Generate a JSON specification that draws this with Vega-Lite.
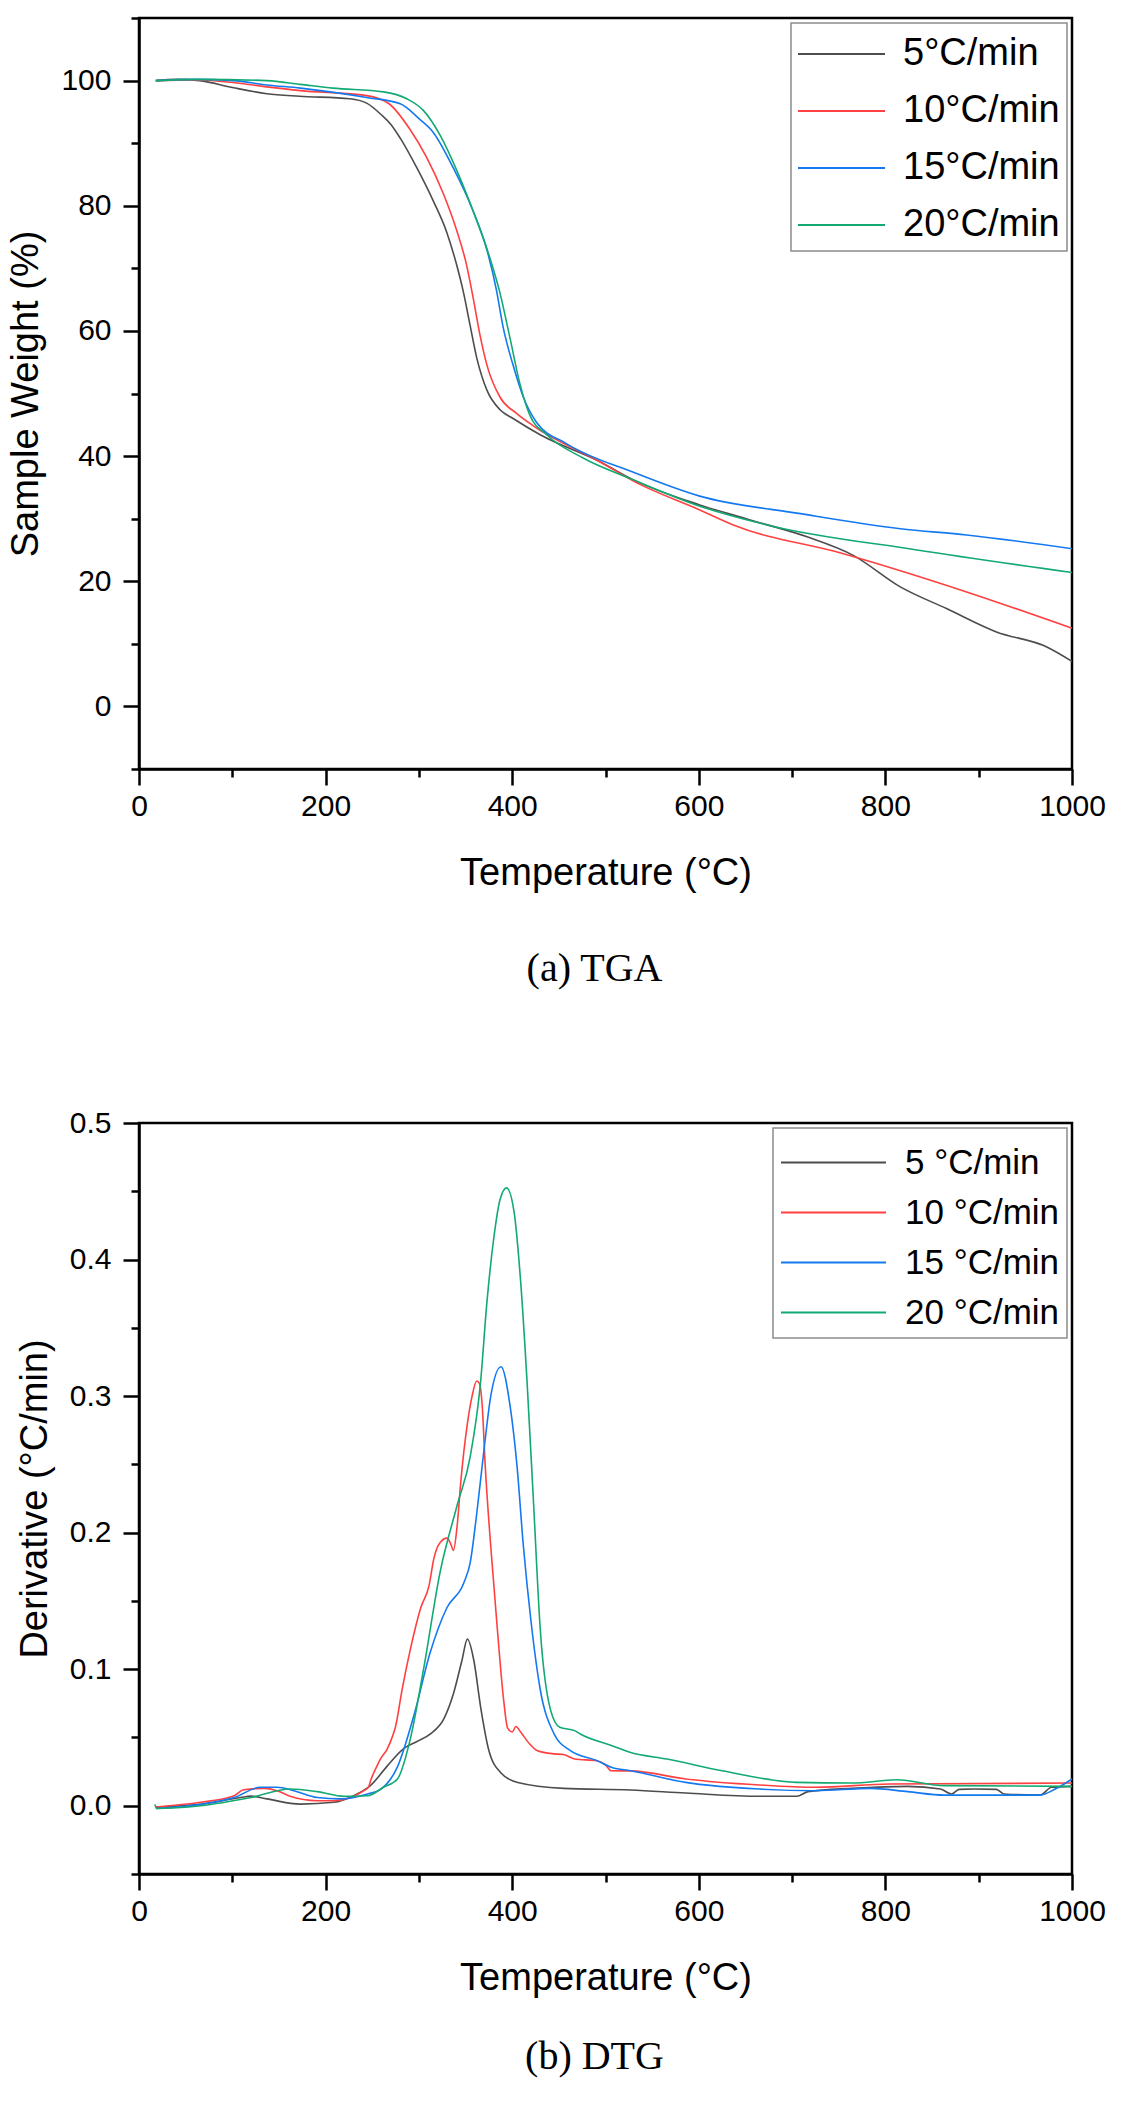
{
  "$schema": "https://vega.github.io/schema/vega-lite/v6.json",
  "description": "TGA and DTG curves at four heating rates.",
  "padding": {"left": 6, "top": 1, "right": 10, "bottom": 10},
  "spacing": 115,
  "background": "white",
  "datasets": {
    "tga": [
      {"rate": "5°C/min", "T": 18, "W": 100.0}, {"rate": "5°C/min", "T": 40, "W": 100.2}, {"rate": "5°C/min", "T": 65, "W": 100.0},
      {"rate": "5°C/min", "T": 100, "W": 98.9}, {"rate": "5°C/min", "T": 137, "W": 97.9}, {"rate": "5°C/min", "T": 172, "W": 97.5},
      {"rate": "5°C/min", "T": 226, "W": 97.1}, {"rate": "5°C/min", "T": 244, "W": 96.4}, {"rate": "5°C/min", "T": 260, "W": 94.5},
      {"rate": "5°C/min", "T": 270, "W": 93.0}, {"rate": "5°C/min", "T": 280, "W": 90.8}, {"rate": "5°C/min", "T": 298, "W": 86.0},
      {"rate": "5°C/min", "T": 315, "W": 80.9}, {"rate": "5°C/min", "T": 330, "W": 75.7}, {"rate": "5°C/min", "T": 340, "W": 70.8},
      {"rate": "5°C/min", "T": 348, "W": 66.0}, {"rate": "5°C/min", "T": 355, "W": 60.8}, {"rate": "5°C/min", "T": 362, "W": 55.7},
      {"rate": "5°C/min", "T": 373, "W": 50.5}, {"rate": "5°C/min", "T": 387, "W": 47.4}, {"rate": "5°C/min", "T": 401, "W": 46.0},
      {"rate": "5°C/min", "T": 430, "W": 43.4}, {"rate": "5°C/min", "T": 494, "W": 39.1}, {"rate": "5°C/min", "T": 530, "W": 36.2},
      {"rate": "5°C/min", "T": 601, "W": 32.2}, {"rate": "5°C/min", "T": 655, "W": 29.8}, {"rate": "5°C/min", "T": 716, "W": 27.1},
      {"rate": "5°C/min", "T": 766, "W": 24.1}, {"rate": "5°C/min", "T": 816, "W": 19.1}, {"rate": "5°C/min", "T": 866, "W": 15.6},
      {"rate": "5°C/min", "T": 919, "W": 11.9}, {"rate": "5°C/min", "T": 973, "W": 9.5}, {"rate": "5°C/min", "T": 1000, "W": 7.2},

      {"rate": "10°C/min", "T": 18, "W": 100.0}, {"rate": "10°C/min", "T": 60, "W": 100.1}, {"rate": "10°C/min", "T": 101, "W": 99.7},
      {"rate": "10°C/min", "T": 137, "W": 99.0}, {"rate": "10°C/min", "T": 173, "W": 98.4}, {"rate": "10°C/min", "T": 244, "W": 97.6},
      {"rate": "10°C/min", "T": 268, "W": 96.3}, {"rate": "10°C/min", "T": 290, "W": 92.3}, {"rate": "10°C/min", "T": 308, "W": 87.8},
      {"rate": "10°C/min", "T": 326, "W": 82.0}, {"rate": "10°C/min", "T": 340, "W": 76.3}, {"rate": "10°C/min", "T": 351, "W": 70.6},
      {"rate": "10°C/min", "T": 358, "W": 65.4}, {"rate": "10°C/min", "T": 365, "W": 59.7}, {"rate": "10°C/min", "T": 373, "W": 54.5},
      {"rate": "10°C/min", "T": 387, "W": 49.4}, {"rate": "10°C/min", "T": 405, "W": 46.8}, {"rate": "10°C/min", "T": 423, "W": 44.8},
      {"rate": "10°C/min", "T": 494, "W": 39.1}, {"rate": "10°C/min", "T": 530, "W": 36.0}, {"rate": "10°C/min", "T": 601, "W": 31.4},
      {"rate": "10°C/min", "T": 637, "W": 29.0}, {"rate": "10°C/min", "T": 755, "W": 24.4}, {"rate": "10°C/min", "T": 887, "W": 18.3},
      {"rate": "10°C/min", "T": 1000, "W": 12.5},

      {"rate": "15°C/min", "T": 18, "W": 100.0}, {"rate": "15°C/min", "T": 60, "W": 100.2}, {"rate": "15°C/min", "T": 101, "W": 100.0},
      {"rate": "15°C/min", "T": 137, "W": 99.3}, {"rate": "15°C/min", "T": 173, "W": 98.8}, {"rate": "15°C/min", "T": 244, "W": 97.3},
      {"rate": "15°C/min", "T": 280, "W": 96.3}, {"rate": "15°C/min", "T": 301, "W": 93.8}, {"rate": "15°C/min", "T": 315, "W": 91.8},
      {"rate": "15°C/min", "T": 337, "W": 86.0}, {"rate": "15°C/min", "T": 358, "W": 79.2}, {"rate": "15°C/min", "T": 373, "W": 72.9},
      {"rate": "15°C/min", "T": 383, "W": 66.6}, {"rate": "15°C/min", "T": 390, "W": 60.8}, {"rate": "15°C/min", "T": 401, "W": 54.5},
      {"rate": "15°C/min", "T": 412, "W": 49.4}, {"rate": "15°C/min", "T": 426, "W": 45.4}, {"rate": "15°C/min", "T": 458, "W": 42.0},
      {"rate": "15°C/min", "T": 530, "W": 37.4}, {"rate": "15°C/min", "T": 601, "W": 33.6}, {"rate": "15°C/min", "T": 709, "W": 30.8},
      {"rate": "15°C/min", "T": 816, "W": 28.4}, {"rate": "15°C/min", "T": 887, "W": 27.4}, {"rate": "15°C/min", "T": 1000, "W": 25.2},

      {"rate": "20°C/min", "T": 18, "W": 100.0}, {"rate": "20°C/min", "T": 65, "W": 100.2}, {"rate": "20°C/min", "T": 137, "W": 100.0},
      {"rate": "20°C/min", "T": 173, "W": 99.4}, {"rate": "20°C/min", "T": 208, "W": 98.8}, {"rate": "20°C/min", "T": 262, "W": 98.2},
      {"rate": "20°C/min", "T": 287, "W": 97.1}, {"rate": "20°C/min", "T": 305, "W": 95.2}, {"rate": "20°C/min", "T": 323, "W": 91.2},
      {"rate": "20°C/min", "T": 341, "W": 85.5}, {"rate": "20°C/min", "T": 358, "W": 79.2}, {"rate": "20°C/min", "T": 376, "W": 71.7},
      {"rate": "20°C/min", "T": 387, "W": 66.0}, {"rate": "20°C/min", "T": 398, "W": 58.6}, {"rate": "20°C/min", "T": 408, "W": 51.7},
      {"rate": "20°C/min", "T": 419, "W": 46.5}, {"rate": "20°C/min", "T": 437, "W": 43.4}, {"rate": "20°C/min", "T": 476, "W": 39.7},
      {"rate": "20°C/min", "T": 530, "W": 36.2}, {"rate": "20°C/min", "T": 601, "W": 32.0}, {"rate": "20°C/min", "T": 673, "W": 29.0},
      {"rate": "20°C/min", "T": 834, "W": 25.0}, {"rate": "20°C/min", "T": 1000, "W": 21.4}
    ],
    "dtg": [
      {"rate": "5 °C/min", "T": 18, "D": -0.001}, {"rate": "5 °C/min", "T": 66, "D": 0.001}, {"rate": "5 °C/min", "T": 109, "D": 0.006},
      {"rate": "5 °C/min", "T": 120, "D": 0.007}, {"rate": "5 °C/min", "T": 137, "D": 0.005}, {"rate": "5 °C/min", "T": 173, "D": 0.0012},
      {"rate": "5 °C/min", "T": 209, "D": 0.0025}, {"rate": "5 °C/min", "T": 230, "D": 0.0073}, {"rate": "5 °C/min", "T": 248, "D": 0.0147},
      {"rate": "5 °C/min", "T": 266, "D": 0.029}, {"rate": "5 °C/min", "T": 284, "D": 0.042}, {"rate": "5 °C/min", "T": 298, "D": 0.047},
      {"rate": "5 °C/min", "T": 312, "D": 0.0525}, {"rate": "5 °C/min", "T": 327, "D": 0.064}, {"rate": "5 °C/min", "T": 337, "D": 0.082},
      {"rate": "5 °C/min", "T": 346, "D": 0.106}, {"rate": "5 °C/min", "T": 352, "D": 0.122}, {"rate": "5 °C/min", "T": 359, "D": 0.106},
      {"rate": "5 °C/min", "T": 366, "D": 0.073}, {"rate": "5 °C/min", "T": 375, "D": 0.0405}, {"rate": "5 °C/min", "T": 388, "D": 0.024},
      {"rate": "5 °C/min", "T": 406, "D": 0.017}, {"rate": "5 °C/min", "T": 455, "D": 0.0127}, {"rate": "5 °C/min", "T": 527, "D": 0.0115},
      {"rate": "5 °C/min", "T": 586, "D": 0.0093}, {"rate": "5 °C/min", "T": 665, "D": 0.0069}, {"rate": "5 °C/min", "T": 705, "D": 0.0069},
      {"rate": "5 °C/min", "T": 717, "D": 0.0103}, {"rate": "5 °C/min", "T": 764, "D": 0.0127}, {"rate": "5 °C/min", "T": 824, "D": 0.0142},
      {"rate": "5 °C/min", "T": 859, "D": 0.0122}, {"rate": "5 °C/min", "T": 871, "D": 0.0086}, {"rate": "5 °C/min", "T": 879, "D": 0.012},
      {"rate": "5 °C/min", "T": 895, "D": 0.0122}, {"rate": "5 °C/min", "T": 919, "D": 0.012}, {"rate": "5 °C/min", "T": 927, "D": 0.0086},
      {"rate": "5 °C/min", "T": 966, "D": 0.0078}, {"rate": "5 °C/min", "T": 978, "D": 0.0135}, {"rate": "5 °C/min", "T": 1000, "D": 0.0142},

      {"rate": "10 °C/min", "T": 18, "D": -0.001}, {"rate": "10 °C/min", "T": 66, "D": 0.0025}, {"rate": "10 °C/min", "T": 102, "D": 0.0073},
      {"rate": "10 °C/min", "T": 112, "D": 0.0117}, {"rate": "10 °C/min", "T": 134, "D": 0.0127}, {"rate": "10 °C/min", "T": 148, "D": 0.011},
      {"rate": "10 °C/min", "T": 162, "D": 0.0069}, {"rate": "10 °C/min", "T": 191, "D": 0.0037}, {"rate": "10 °C/min", "T": 209, "D": 0.0037},
      {"rate": "10 °C/min", "T": 227, "D": 0.006}, {"rate": "10 °C/min", "T": 241, "D": 0.011}, {"rate": "10 °C/min", "T": 246, "D": 0.0136},
      {"rate": "10 °C/min", "T": 248, "D": 0.018}, {"rate": "10 °C/min", "T": 255, "D": 0.029}, {"rate": "10 °C/min", "T": 259, "D": 0.0345},
      {"rate": "10 °C/min", "T": 266, "D": 0.0415}, {"rate": "10 °C/min", "T": 271, "D": 0.0495}, {"rate": "10 °C/min", "T": 275, "D": 0.058},
      {"rate": "10 °C/min", "T": 282, "D": 0.085}, {"rate": "10 °C/min", "T": 291, "D": 0.115}, {"rate": "10 °C/min", "T": 302, "D": 0.145},
      {"rate": "10 °C/min", "T": 311, "D": 0.1616}, {"rate": "10 °C/min", "T": 316, "D": 0.181}, {"rate": "10 °C/min", "T": 323, "D": 0.193},
      {"rate": "10 °C/min", "T": 330, "D": 0.196}, {"rate": "10 °C/min", "T": 334, "D": 0.192}, {"rate": "10 °C/min", "T": 337, "D": 0.187},
      {"rate": "10 °C/min", "T": 341, "D": 0.205}, {"rate": "10 °C/min", "T": 345, "D": 0.238}, {"rate": "10 °C/min", "T": 352, "D": 0.28},
      {"rate": "10 °C/min", "T": 357, "D": 0.30}, {"rate": "10 °C/min", "T": 362, "D": 0.311}, {"rate": "10 °C/min", "T": 365, "D": 0.309},
      {"rate": "10 °C/min", "T": 368, "D": 0.2915}, {"rate": "10 °C/min", "T": 371, "D": 0.25}, {"rate": "10 °C/min", "T": 377, "D": 0.19},
      {"rate": "10 °C/min", "T": 384, "D": 0.130}, {"rate": "10 °C/min", "T": 391, "D": 0.0764}, {"rate": "10 °C/min", "T": 395, "D": 0.057},
      {"rate": "10 °C/min", "T": 400, "D": 0.054}, {"rate": "10 °C/min", "T": 404, "D": 0.058}, {"rate": "10 °C/min", "T": 409, "D": 0.054},
      {"rate": "10 °C/min", "T": 419, "D": 0.045}, {"rate": "10 °C/min", "T": 427, "D": 0.0403}, {"rate": "10 °C/min", "T": 445, "D": 0.038},
      {"rate": "10 °C/min", "T": 455, "D": 0.0375}, {"rate": "10 °C/min", "T": 467, "D": 0.0342}, {"rate": "10 °C/min", "T": 491, "D": 0.033},
      {"rate": "10 °C/min", "T": 500, "D": 0.030}, {"rate": "10 °C/min", "T": 506, "D": 0.0256}, {"rate": "10 °C/min", "T": 527, "D": 0.0255},
      {"rate": "10 °C/min", "T": 586, "D": 0.0196}, {"rate": "10 °C/min", "T": 665, "D": 0.0152}, {"rate": "10 °C/min", "T": 725, "D": 0.0135},
      {"rate": "10 °C/min", "T": 804, "D": 0.0159}, {"rate": "10 °C/min", "T": 1000, "D": 0.0166},

      {"rate": "15 °C/min", "T": 18, "D": -0.002}, {"rate": "15 °C/min", "T": 66, "D": 0.001}, {"rate": "15 °C/min", "T": 102, "D": 0.006},
      {"rate": "15 °C/min", "T": 130, "D": 0.0135}, {"rate": "15 °C/min", "T": 148, "D": 0.0135}, {"rate": "15 °C/min", "T": 166, "D": 0.011},
      {"rate": "15 °C/min", "T": 191, "D": 0.006}, {"rate": "15 °C/min", "T": 216, "D": 0.005}, {"rate": "15 °C/min", "T": 245, "D": 0.0086},
      {"rate": "15 °C/min", "T": 259, "D": 0.012}, {"rate": "15 °C/min", "T": 277, "D": 0.0285}, {"rate": "15 °C/min", "T": 295, "D": 0.067},
      {"rate": "15 °C/min", "T": 312, "D": 0.112}, {"rate": "15 °C/min", "T": 330, "D": 0.145}, {"rate": "15 °C/min", "T": 348, "D": 0.163},
      {"rate": "15 °C/min", "T": 355, "D": 0.178}, {"rate": "15 °C/min", "T": 362, "D": 0.214}, {"rate": "15 °C/min", "T": 370, "D": 0.262},
      {"rate": "15 °C/min", "T": 377, "D": 0.30}, {"rate": "15 °C/min", "T": 388, "D": 0.3215}, {"rate": "15 °C/min", "T": 398, "D": 0.2915},
      {"rate": "15 °C/min", "T": 405, "D": 0.25}, {"rate": "15 °C/min", "T": 412, "D": 0.19}, {"rate": "15 °C/min", "T": 420, "D": 0.136},
      {"rate": "15 °C/min", "T": 430, "D": 0.0853}, {"rate": "15 °C/min", "T": 445, "D": 0.0525}, {"rate": "15 °C/min", "T": 462, "D": 0.0405},
      {"rate": "15 °C/min", "T": 491, "D": 0.033}, {"rate": "15 °C/min", "T": 507, "D": 0.028}, {"rate": "15 °C/min", "T": 527, "D": 0.0256},
      {"rate": "15 °C/min", "T": 586, "D": 0.0171}, {"rate": "15 °C/min", "T": 665, "D": 0.0122}, {"rate": "15 °C/min", "T": 725, "D": 0.011},
      {"rate": "15 °C/min", "T": 784, "D": 0.0127}, {"rate": "15 °C/min", "T": 824, "D": 0.0103}, {"rate": "15 °C/min", "T": 863, "D": 0.0078},
      {"rate": "15 °C/min", "T": 966, "D": 0.0078}, {"rate": "15 °C/min", "T": 982, "D": 0.0122}, {"rate": "15 °C/min", "T": 1000, "D": 0.0196},

      {"rate": "20 °C/min", "T": 17, "D": 0.001}, {"rate": "20 °C/min", "T": 19, "D": -0.002}, {"rate": "20 °C/min", "T": 66, "D": 0.0},
      {"rate": "20 °C/min", "T": 120, "D": 0.006}, {"rate": "20 °C/min", "T": 162, "D": 0.0122}, {"rate": "20 °C/min", "T": 191, "D": 0.0103},
      {"rate": "20 °C/min", "T": 220, "D": 0.0069}, {"rate": "20 °C/min", "T": 245, "D": 0.0073}, {"rate": "20 °C/min", "T": 262, "D": 0.0135},
      {"rate": "20 °C/min", "T": 277, "D": 0.0196}, {"rate": "20 °C/min", "T": 291, "D": 0.0495}, {"rate": "20 °C/min", "T": 305, "D": 0.100},
      {"rate": "20 °C/min", "T": 323, "D": 0.172}, {"rate": "20 °C/min", "T": 341, "D": 0.22}, {"rate": "20 °C/min", "T": 355, "D": 0.2557},
      {"rate": "20 °C/min", "T": 366, "D": 0.3096}, {"rate": "20 °C/min", "T": 373, "D": 0.3695}, {"rate": "20 °C/min", "T": 380, "D": 0.4143},
      {"rate": "20 °C/min", "T": 387, "D": 0.444}, {"rate": "20 °C/min", "T": 394, "D": 0.4525}, {"rate": "20 °C/min", "T": 402, "D": 0.435},
      {"rate": "20 °C/min", "T": 409, "D": 0.3844}, {"rate": "20 °C/min", "T": 416, "D": 0.3096}, {"rate": "20 °C/min", "T": 423, "D": 0.22},
      {"rate": "20 °C/min", "T": 430, "D": 0.130}, {"rate": "20 °C/min", "T": 441, "D": 0.0704}, {"rate": "20 °C/min", "T": 451, "D": 0.0574},
      {"rate": "20 °C/min", "T": 467, "D": 0.055}, {"rate": "20 °C/min", "T": 473, "D": 0.0525}, {"rate": "20 °C/min", "T": 507, "D": 0.044},
      {"rate": "20 °C/min", "T": 527, "D": 0.039}, {"rate": "20 °C/min", "T": 566, "D": 0.0342}, {"rate": "20 °C/min", "T": 625, "D": 0.0256},
      {"rate": "20 °C/min", "T": 705, "D": 0.0171}, {"rate": "20 °C/min", "T": 764, "D": 0.0166}, {"rate": "20 °C/min", "T": 812, "D": 0.019},
      {"rate": "20 °C/min", "T": 863, "D": 0.0147}, {"rate": "20 °C/min", "T": 1000, "D": 0.0142}
    ]
  },
  "resolve": {"scale": {"color": "independent"}, "legend": {"color": "independent"}},
  "vconcat": [
    {
      "width": 933,
      "height": 751,
      "data": {"name": "tga"},
      "title": {"text": "(a) TGA", "orient": "bottom", "anchor": "middle", "dx": -11, "offset": 57},
      "mark": {"type": "line", "strokeWidth": 1.6, "interpolate": "monotone"},
      "encoding": {
        "x": {
          "field": "T", "type": "quantitative", "title": "Temperature (°C)",
          "scale": {"domain": [0, 1000], "nice": false, "zero": false},
          "axis": {
            "values": [0, 100, 200, 300, 400, 500, 600, 700, 800, 900, 1000],
            "format": "d",
            "labelExpr": "datum.value % 200 == 0 ? datum.label : ''",
            "tickSize": {"condition": {"test": "datum.value % 200 != 0", "value": 8}, "value": 16}
          }
        },
        "y": {
          "field": "W", "type": "quantitative", "title": "Sample Weight (%)",
          "scale": {"domain": [-10, 110], "nice": false, "zero": false},
          "axis": {
            "values": [-10, 0, 10, 20, 30, 40, 50, 60, 70, 80, 90, 100, 110],
            "format": "d",
            "labelExpr": "datum.value % 20 == 0 ? datum.label : ''",
            "tickSize": {"condition": {"test": "datum.value % 20 != 0", "value": 8}, "value": 16}
          }
        },
        "color": {
          "field": "rate", "type": "nominal",
          "scale": {
            "domain": ["5°C/min", "10°C/min", "15°C/min", "20°C/min"],
            "range": ["#4d4d4d", "#ff4040", "#1479f0", "#12aa72"]
          },
          "legend": {
            "orient": "top-right", "offset": 5, "title": " ", "titleFontSize": 1, "titlePadding": 4,
            "labelFontSize": 38, "symbolSize": 841, "symbolOffset": 24.5,
            "labelOffset": 42.5, "rowPadding": 19
          }
        }
      }
    },
    {
      "width": 933,
      "height": 751,
      "data": {"name": "dtg"},
      "title": {"text": "(b) DTG", "orient": "bottom", "anchor": "middle", "dx": -11, "offset": 40},
      "mark": {"type": "line", "strokeWidth": 1.6, "interpolate": "monotone"},
      "encoding": {
        "x": {
          "field": "T", "type": "quantitative", "title": "Temperature (°C)",
          "scale": {"domain": [0, 1000], "nice": false, "zero": false},
          "axis": {
            "values": [0, 100, 200, 300, 400, 500, 600, 700, 800, 900, 1000],
            "format": "d",
            "labelExpr": "datum.value % 200 == 0 ? datum.label : ''",
            "tickSize": {"condition": {"test": "datum.value % 200 != 0", "value": 8}, "value": 16}
          }
        },
        "y": {
          "field": "D", "type": "quantitative", "title": "Derivative (°C/min)",
          "scale": {"domain": [-0.05, 0.5], "nice": false, "zero": false},
          "axis": {
            "values": [-0.05, 0, 0.05, 0.1, 0.15, 0.2, 0.25, 0.3, 0.35, 0.4, 0.45, 0.5],
            "format": ".1f",
            "labelExpr": "abs(round(datum.value * 20)) % 2 == 1 ? '' : datum.label",
            "tickSize": {"condition": {"test": "abs(round(datum.value * 20)) % 2 == 1", "value": 8}, "value": 16}
          }
        },
        "color": {
          "field": "rate", "type": "nominal",
          "scale": {
            "domain": ["5 °C/min", "10 °C/min", "15 °C/min", "20 °C/min"],
            "range": ["#4d4d4d", "#ff4040", "#1479f0", "#12aa72"]
          },
          "legend": {
            "orient": "top-right", "offset": 5, "title": " ", "titleFontSize": 1, "titlePadding": 8,
            "labelFontSize": 35, "symbolSize": 1225, "symbolOffset": 35,
            "labelOffset": 53, "rowPadding": 13
          }
        }
      }
    }
  ],
  "config": {
    "font": "Liberation Sans",
    "view": {"stroke": "black", "strokeWidth": 2.5},
    "axis": {
      "grid": false,
      "domainColor": "black", "domainWidth": 2.5,
      "tickColor": "black", "tickWidth": 2.5,
      "labelColor": "black", "labelFont": "Liberation Sans", "labelFontSize": 30,
      "labelPadding": 6, "labelFlush": false, "labelOverlap": false,
      "titleColor": "black", "titleFont": "Liberation Sans", "titleFontSize": 38,
      "titleFontWeight": "normal", "titlePadding": 33
    },
    "axisY": {"labelPadding": 12, "titlePadding": 15},
    "legend": {
      "symbolType": "M-3,0H3", "symbolStrokeWidth": 2,
      "labelFont": "Liberation Sans", "labelColor": "black", "labelLimit": 400,
      "strokeColor": "#8c8c8c", "strokeWidth": 1.5, "fillColor": "white", "padding": 7
    },
    "title": {"font": "Liberation Serif", "fontSize": 40, "fontWeight": "normal", "color": "black"}
  }
}
